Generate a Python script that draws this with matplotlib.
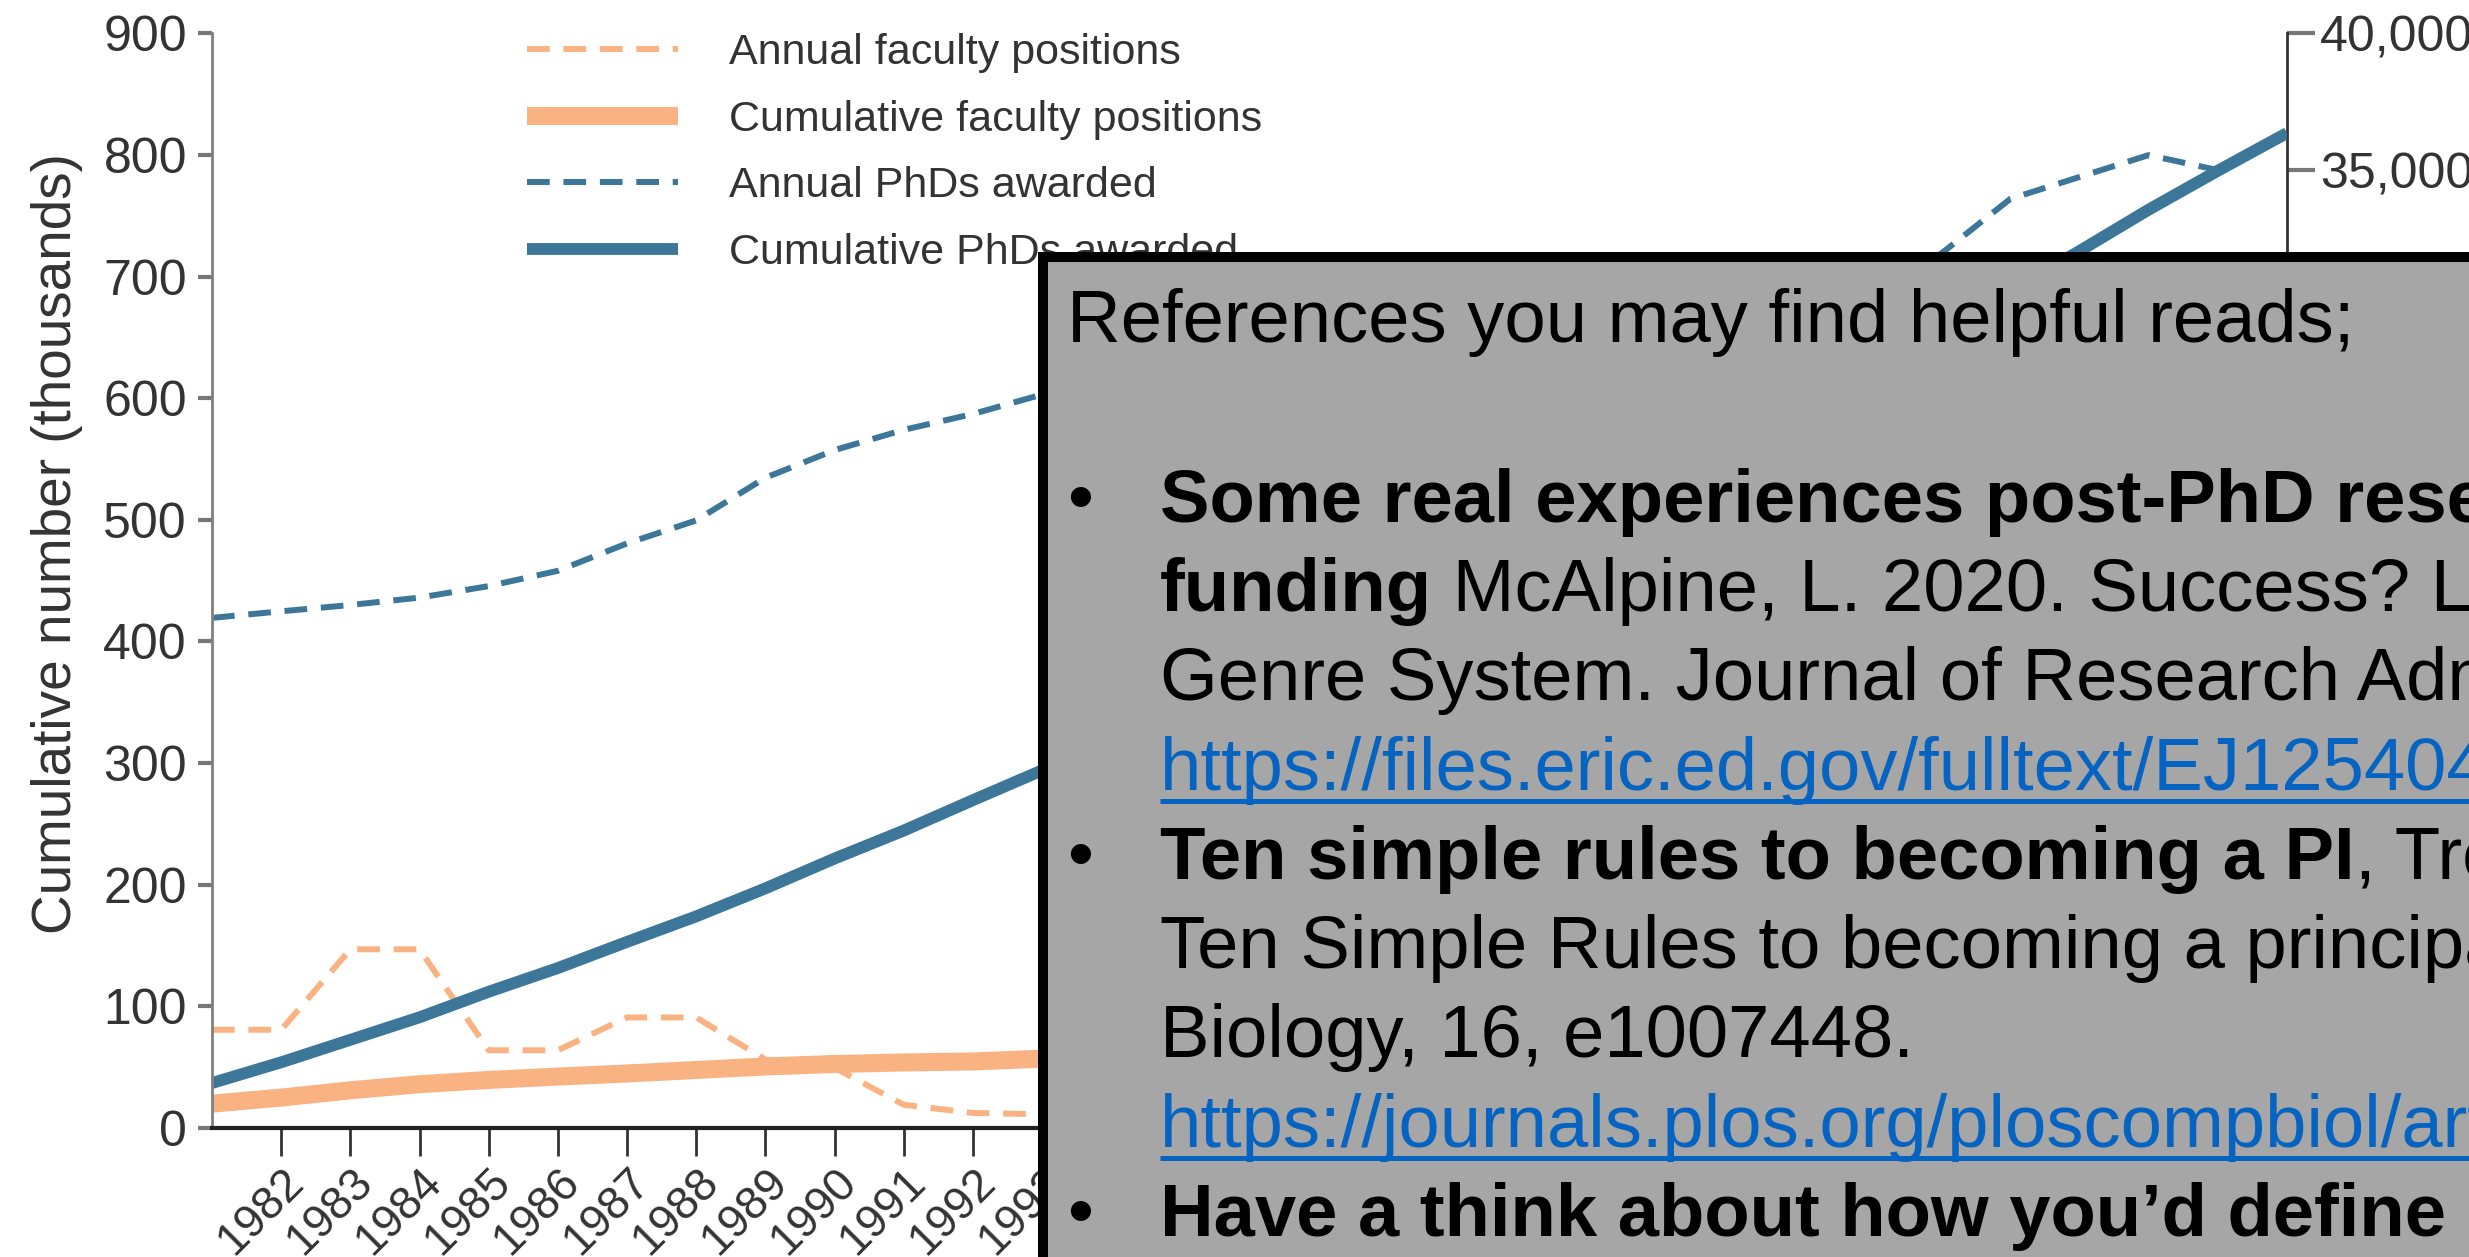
import matplotlib
matplotlib.use('Agg')
import matplotlib.pyplot as plt
from matplotlib.patches import Rectangle
from matplotlib.ticker import FuncFormatter, MultipleLocator

plt.rcParams['font.family'] = ['Liberation Sans', 'DejaVu Sans']

# cumulative series (thousands), one value per year 1981-2011
years = list(range(1981, 2012))
cum_phd = [37, 54, 72.5, 91, 112, 131.5, 153, 174, 197, 221.5, 244.5, 269.5, 294,
           318, 343, 369, 396, 424, 452, 480, 508, 536, 564, 593, 623, 655, 688,
           721, 755, 787, 818]
cum_fac = [20, 25, 31, 36, 39.5, 42.3, 44.8, 47.7, 50.6, 52.6, 53.9, 54.7, 57,
           58, 59.5, 61.5, 64, 66.5, 69, 72, 75, 78, 81, 84, 87, 90, 93, 96, 99,
           102, 105]

# annual series (right axis), one value per year 1981-2010
years_annual = list(range(1981, 2011))
annual_phd = [18640, 18880, 19110, 19380, 19800, 20360, 21360, 22200, 23760, 24770,
              25510, 26090, 26800, 27300, 27800, 28300, 28600, 28700, 28400, 28300,
              28200, 28100, 28700, 29600, 30700, 31950, 33950, 34750, 35550, 35000]
annual_fac = [3590, 3590, 6530, 6530, 2840, 2840, 4040, 4040, 2500, 2200,
              850, 550, 500, 1500, 2800, 3200, 3000, 2900, 3100, 3000,
              3000, 3000, 3000, 3000, 3100, 3000, 3000, 3000, 3000, 3000]

xticks = list(range(1982, 2012))
left_ticks = list(range(0, 1000, 100))

BLUE = '#3c7698'
ORANGE = '#f9b383'
GREY_BOX = '#a6a6a6'
LINK = '#0563c1'
TXT = '#333333'

W, H = 2469, 1257
fig = plt.figure(figsize=(W / 100, H / 100), dpi=100)
ax = fig.add_axes([212 / W, 1 - 1128 / H, (2287 - 212) / W, (1128 - 33.3) / H])
ax2 = ax.twinx()

# annual lines sit below the cumulative ones
ax.set_zorder(ax2.get_zorder() + 1)
ax.patch.set_visible(False)

l_af, = ax2.plot(years_annual, annual_fac, color=ORANGE, lw=4.3, ls=(0, (3.8, 2.3)),
                 label='Annual faculty positions')
l_ap, = ax2.plot(years_annual, annual_phd, color=BLUE, lw=4.3, ls=(0, (3.8, 2.3)),
                 label='Annual PhDs awarded')
l_cf, = ax.plot(years, cum_fac, color=ORANGE, lw=13, solid_capstyle='butt',
                label='Cumulative faculty positions')
l_cp, = ax.plot(years, cum_phd, color=BLUE, lw=8.5, solid_capstyle='butt',
                label='Cumulative PhDs awarded')

ax.set_xlim(1981, 2011)
ax.set_ylim(0, 900)
ax2.set_ylim(0, 40000)

ax.set_yticks(left_ticks)
ax.set_xticks(xticks)
ax.set_xticklabels([str(y) for y in xticks], rotation=45, ha='right',
                   rotation_mode='anchor')
ax2.yaxis.set_major_locator(MultipleLocator(5000))
ax2.yaxis.set_major_formatter(FuncFormatter(lambda v, p: f'{int(v):,}'))

for s in ['top', 'right']:
    ax.spines[s].set_visible(False)
for s in ['top', 'left', 'bottom']:
    ax2.spines[s].set_visible(False)
ax.spines['left'].set_color('#808080')
ax.spines['left'].set_linewidth(2)
ax.spines['bottom'].set_color('#222222')
ax.spines['bottom'].set_linewidth(3)
ax2.spines['right'].set_color('#333333')
ax2.spines['right'].set_linewidth(2)

ax.tick_params(axis='y', direction='out', length=10, width=3, color='#777777',
               labelsize=36, labelcolor=TXT, pad=8)
ax.tick_params(axis='x', direction='out', length=20, width=2, color='#333333',
               labelsize=33, labelcolor=TXT, pad=3)
ax2.tick_params(axis='y', direction='out', length=20, width=3, color='#777777',
                labelsize=36, labelcolor=TXT, pad=4)

ax.set_ylabel('Cumulative number (thousands)', fontsize=39.5, color=TXT)
ax.yaxis.set_label_coords(-0.062, 0.534)

ax.legend([l_af, l_cf, l_ap, l_cp],
          ['Annual faculty positions', 'Cumulative faculty positions',
           'Annual PhDs awarded', 'Cumulative PhDs awarded'],
          loc='upper left', bbox_to_anchor=(527 / W, 1 - 33 / H),
          bbox_transform=fig.transFigure, frameon=False, fontsize=31,
          labelcolor=TXT, handlelength=3.5, handletextpad=1.2,
          labelspacing=0.62, borderpad=0, borderaxespad=0)

# the grey slide box that covers part of the chart
ov = fig.add_axes([0, 0, 1, 1], zorder=20)
ov.set_xlim(0, W)
ov.set_ylim(H, 0)
ov.axis('off')
ov.add_patch(Rectangle((1043, 257), W, H, facecolor=GREY_BOX, edgecolor='black',
                       lw=7.2))

FS = 53.5
x_head = 1067
x_ind = 1160
base = [521.7 + 89.3 * k for k in range(9)]

ov.text(x_head, 341.7, 'References you may find helpful reads;', fontsize=FS,
        va='baseline', ha='left', color='black')

fig.canvas.draw()
rend = fig.canvas.get_renderer()


def run(x, y, parts):
    # parts: list of (text, bold, link)
    for txt, bold, link in parts:
        t = ov.text(x, y, txt, fontsize=FS, va='baseline', ha='left',
                    color=LINK if link else 'black',
                    fontweight='bold' if bold else 'normal')
        bb = t.get_window_extent(rend)
        if link:
            ov.plot([x, x + bb.width], [y + 11, y + 11], color=LINK, lw=3.6,
                    solid_capstyle='butt')
        x = x + bb.width


for yb in (base[0], base[4], base[8]):
    ov.text(x_head, yb, '\u2022', fontsize=FS, va='baseline', ha='left',
            color='black')

run(x_ind, base[0], [('Some real experiences post-PhD researchers and', True, False)])
run(x_ind, base[1], [('funding', True, False),
                     (' McAlpine, L. 2020. Success? Learning the research', False, False)])
run(x_ind, base[2], [('Genre System. Journal of Research Administration.', False, False)])
run(x_ind, base[3], [('https://files.eric.ed.gov/fulltext/EJ1254040.pdf', False, True)])
run(x_ind, base[4], [('Ten simple rules to becoming a PI', True, False),
                     (', Tregoning, J. S. & McDermott, J. E. 2020.', False, False)])
run(x_ind, base[5], [('Ten Simple Rules to becoming a principal investigator', False, False)])
run(x_ind, base[6], [('Biology, 16, e1007448.', False, False)])
run(x_ind, base[7], [('https://journals.plos.org/ploscompbiol/article', False, True)])
run(x_ind, base[8], [('Have a think about how you\u2019d define success', True, False)])

fig.savefig('out.png', dpi=100)
